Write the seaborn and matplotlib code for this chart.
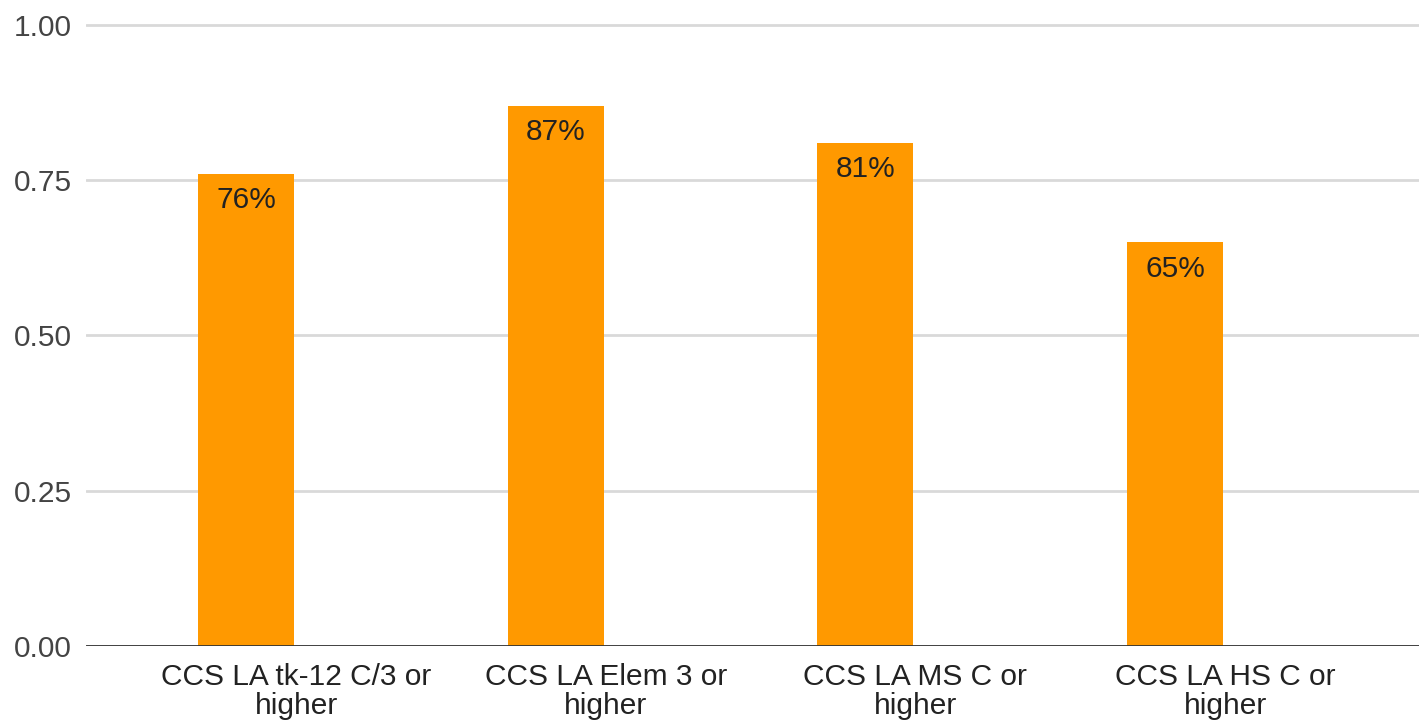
#Importing libraries
import textwrap
import matplotlib
matplotlib.use('Agg')
import matplotlib.pyplot as plt
import matplotlib.transforms as mtransforms
import seaborn as sns
import pandas as pd

#Chart data
categories = ['CCS LA tk-12 C/3 or higher', 'CCS LA Elem 3 or higher',
              'CCS LA MS C or higher', 'CCS LA HS C or higher']
values = [0.76, 0.87, 0.81, 0.65]
yticks = [0.0, 0.25, 0.5, 0.75, 1.0]

df = pd.DataFrame({'category': [textwrap.fill(c, 19) for c in categories],
                   'value': values})

sns.set_style('white')
plt.rcParams['font.family'] = ['Liberation Sans', 'DejaVu Sans']

fig = plt.figure(figsize=(14.19, 7.23), dpi=100)
ax = fig.add_axes([86 / 1419, 1 - 646 / 723, 1 - 86 / 1419, (646 - 22) / 723])

sns.barplot(data=df, x='category', y='value', color='#ff9900', width=0.31,
            saturation=1, linewidth=0, ax=ax, zorder=3)

#Value labels inside the bar tops
for p, v in zip(ax.patches, values):
    ax.annotate(f'{v:.0%}', (p.get_x() + p.get_width() / 2, p.get_height()),
                xytext=(0, -19), textcoords='offset points', ha='center', va='center',
                fontsize=21.5, color='#222222', zorder=4)

ax.set_xlim(-0.517, 3.788)
ax.set_ylim(0, 1.0048)
ax.set_yticks(yticks)
ax.set_yticklabels([f'{t:.2f}' for t in yticks])
ax.yaxis.grid(True, color='#d9d9d9', linewidth=2, zorder=0)
ax.set_axisbelow(True)
ax.axhline(0, color='#333333', linewidth=2, zorder=5)
for s in ax.spines.values():
    s.set_visible(False)
ax.tick_params(axis='y', length=0, pad=10, labelsize=21.5, labelcolor='#444444')
ax.tick_params(axis='x', length=0, pad=12, labelsize=21.5, labelcolor='#222222')

#category labels sit a bit to the right of the bars, as in the original
shift = mtransforms.ScaledTranslation(0.5, 0, fig.dpi_scale_trans)
for lbl in ax.get_xticklabels():
    lbl.set_linespacing(1.08)
    lbl.set_transform(lbl.get_transform() + shift)
ax.set_xlabel('')
ax.set_ylabel('')

plt.savefig('out.png', dpi=100)
plt.close()
